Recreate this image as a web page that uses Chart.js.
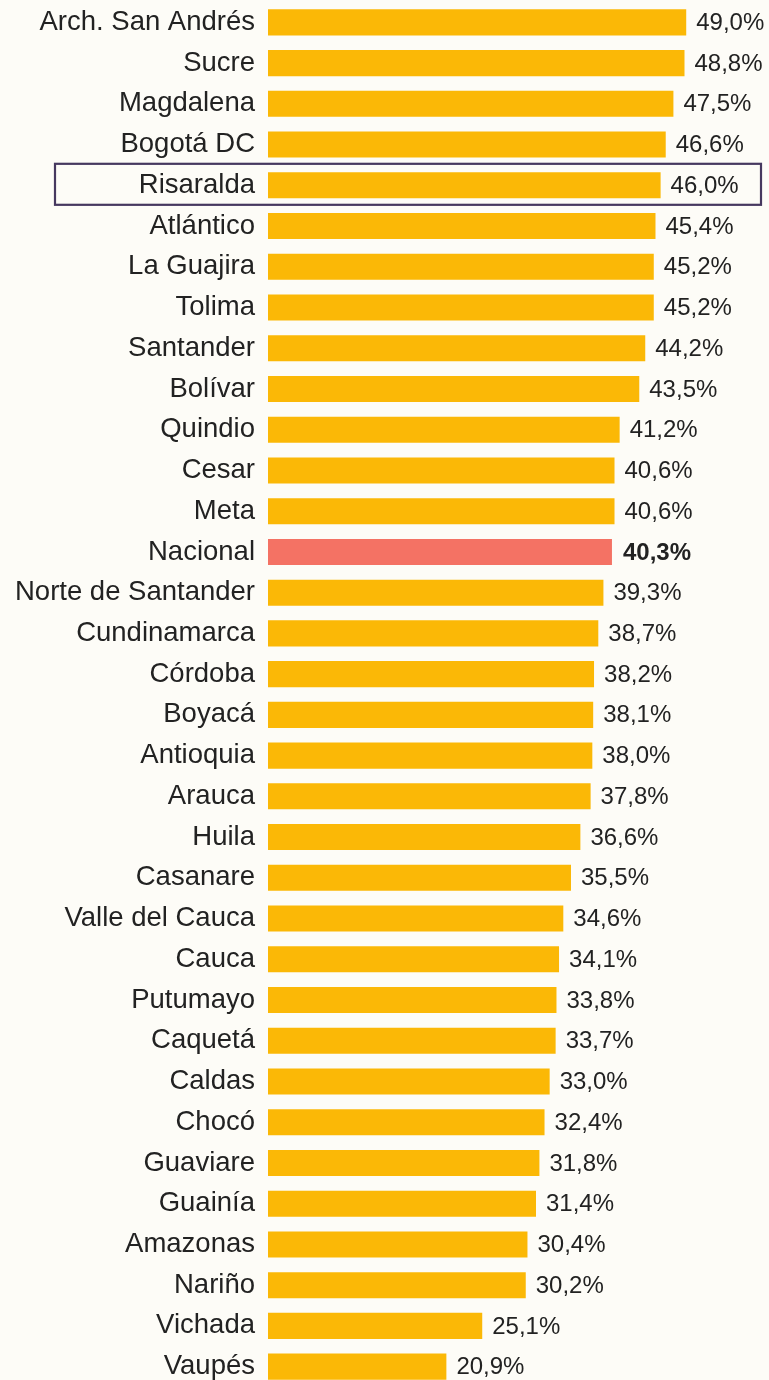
<!DOCTYPE html>
<html>
<head>
<meta charset="utf-8">
<script src="https://cdn.jsdelivr.net/npm/chart.js@4"></script>
<style>
  html, body { margin: 0; padding: 0; background: #fdfcf7; overflow: hidden; }
  #wrap { position: relative; width: 769px; height: 1387px; }
</style>
</head>
<body>
<div id="wrap"><canvas id="deptChart"></canvas></div>
<script>
// Departments, top to bottom
const departments = [
  'Arch. San Andrés', 'Sucre', 'Magdalena', 'Bogotá DC', 'Risaralda', 'Atlántico',
  'La Guajira', 'Tolima', 'Santander', 'Bolívar', 'Quindio', 'Cesar', 'Meta',
  'Nacional', 'Norte de Santander', 'Cundinamarca', 'Córdoba', 'Boyacá', 'Antioquia',
  'Arauca', 'Huila', 'Casanare', 'Valle del Cauca', 'Cauca', 'Putumayo', 'Caquetá',
  'Caldas', 'Chocó', 'Guaviare', 'Guainía', 'Amazonas', 'Nariño', 'Vichada', 'Vaupés'
];

// Percent values
const percentages = [
  49.0, 48.8, 47.5, 46.6, 46.0, 45.4,
  45.2, 45.2, 44.2, 43.5, 41.2, 40.6, 40.6,
  40.3, 39.3, 38.7, 38.2, 38.1, 38.0,
  37.8, 36.6, 35.5, 34.6, 34.1, 33.8, 33.7,
  33.0, 32.4, 31.8, 31.4, 30.4, 30.2, 25.1, 20.9
];

const nationalLabel = 'Nacional';
const highlightLabel = 'Risaralda';

const FONT = '"Liberation Sans", Arial, Helvetica, sans-serif';

const barColors = departments.map(d => d === nationalLabel ? '#f47264' : '#fbb806');

// value labels to the right of each bar, in Spanish decimal format
const valueLabels = {
  id: 'valueLabels',
  afterDatasetsDraw(chart) {
    const ctx = chart.ctx;
    const meta = chart.getDatasetMeta(0);
    ctx.save();
    ctx.fillStyle = '#222';
    ctx.textBaseline = 'middle';
    ctx.textAlign = 'left';
    meta.data.forEach((bar, i) => {
      const bold = departments[i] === nationalLabel;
      ctx.font = (bold ? 'bold ' : '') + '24px ' + FONT;
      const txt = percentages[i].toFixed(1).replace('.', ',') + '%';
      ctx.fillText(txt, bar.x + (bold ? 11 : 10), bar.y + 1);
    });
    ctx.restore();
  }
};

// box around the highlighted department row
const highlightBox = {
  id: 'highlightBox',
  afterDraw(chart) {
    const idx = departments.indexOf(highlightLabel);
    const cy = chart.scales.y.getPixelForValue(idx);
    const ctx = chart.ctx;
    ctx.save();
    ctx.strokeStyle = '#46385f';
    ctx.lineWidth = 2.2;
    ctx.strokeRect(55, cy - 21.5, 706, 41);
    ctx.restore();
  }
};

const ctx = document.getElementById('deptChart').getContext('2d');
new Chart(ctx, {
  type: 'bar',
  data: {
    labels: departments,
    datasets: [{
      data: percentages,
      backgroundColor: barColors,
      borderWidth: 0,
      barPercentage: 0.64,
      categoryPercentage: 1.0
    }]
  },
  options: {
    indexAxis: 'y',
    responsive: true,
    maintainAspectRatio: false,
    animation: false,
    layout: { padding: { top: 2, right: 0, bottom: 0, left: 0 } },
    plugins: {
      legend: { display: false },
      tooltip: { enabled: false }
    },
    scales: {
      x: {
        display: false,
        min: 0,
        max: 58.7
      },
      y: {
        grid: { display: false, drawTicks: false },
        border: { display: false },
        afterFit: scale => {
          scale.width = 268;
          scale.paddingTop = 0;
          scale.paddingBottom = 0;
        },
        ticks: {
          color: '#222',
          padding: 13,
          autoSkip: false,
          font: { family: FONT, size: 27.5 }
        }
      }
    }
  },
  plugins: [valueLabels, highlightBox]
});
</script>
</body>
</html>
